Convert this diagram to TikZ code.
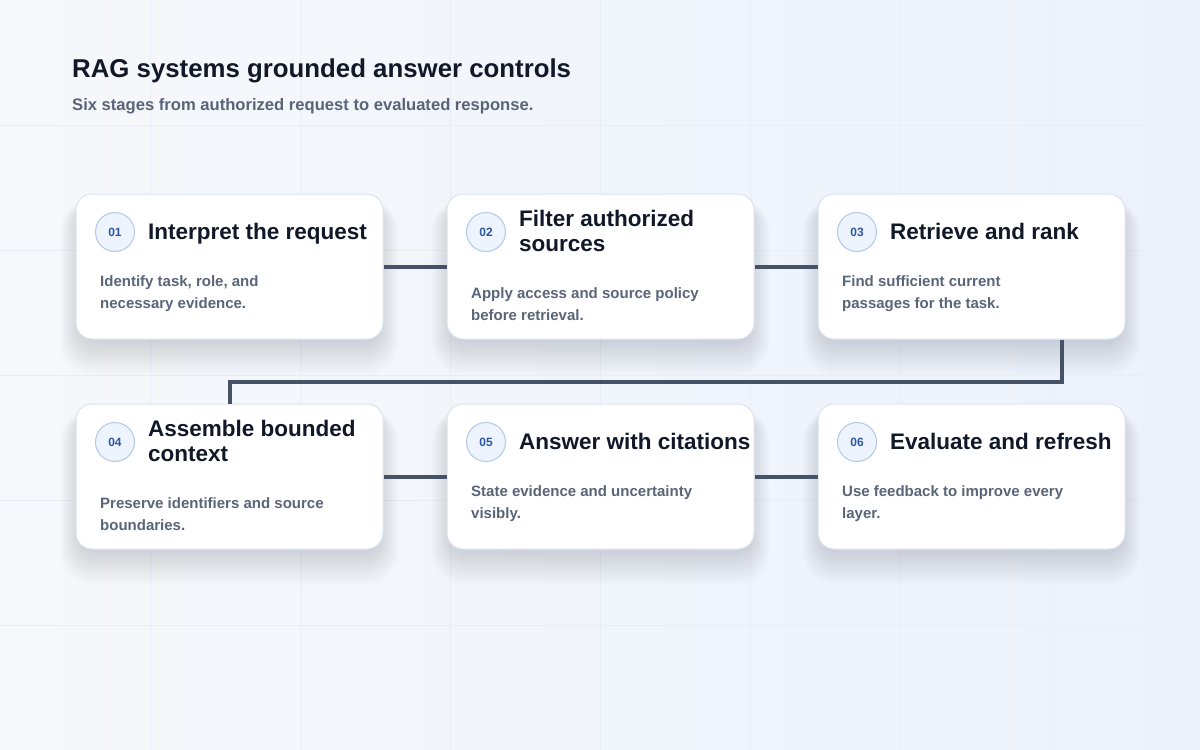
\documentclass[tikz,border=0pt]{standalone}
\usepackage{fontspec}
\setmainfont{Liberation Sans}
\usetikzlibrary{calc}
\definecolor{bgA}{HTML}{F6F8FB}
\definecolor{bgB}{HTML}{ECF2FC}
\definecolor{gridc}{HTML}{E9EDF5}
\definecolor{cardline}{HTML}{DCE3EE}
\definecolor{shadowc}{HTML}{3A4660}
\definecolor{titlec}{HTML}{111827}
\definecolor{subc}{HTML}{5A6477}
\definecolor{descc}{HTML}{596578}
\definecolor{dotfill}{HTML}{EEF4FE}
\definecolor{dotline}{HTML}{B8CAEA}
\definecolor{numc}{HTML}{2C58A0}
\definecolor{connc}{HTML}{465366}
\tikzset{
  card/.style={draw=cardline, line width=1pt, fill=white, rounded corners=16pt,
    minimum width=307pt, minimum height=145pt, inner sep=0pt},
  numdot/.style={circle, draw=dotline, line width=1.1pt, fill=dotfill, minimum size=39pt,
    inner sep=0pt, text=numc, font=\fontsize{12}{12}\selectfont\bfseries},
  ttl/.style={anchor=north west, inner sep=0pt, align=left, text=titlec,
    font=\fontsize{22.5}{25}\selectfont\bfseries},
  dsc/.style={anchor=north west, inner sep=0pt, align=left, text=descc,
    font=\fontsize{15}{22}\selectfont\bfseries},
  conn/.style={draw=connc, line width=4pt},
}
\newcommand\stageshadow[2]{%
  \foreach \i in {1,...,18}{%
    \fill[shadowc, opacity=0.0075, rounded corners=16pt+\i pt]
      (#1+4-\i*1.1, #2+10-\i*0.3) rectangle (#1+303+\i*1.1, #2+145+2+\i*1.9);
  }%
}
% #1 id, #2 left x, #3 top y, #4 number, #5 title, #6 title top offset, #7 desc, #8 desc top offset
\newcommand\stagecard[8]{%
  \node[card] (#1) at (#2+153.5, #3+72.5) {};
  \node[numdot] (#1n) at (#2+39, #3+38) {#4};
  \node[ttl] (#1t) at (#2+72, #3+#6) {#5};
  \node[dsc] (#1d) at (#2+24, #3+#8) {#7};
}
\begin{document}
\begin{tikzpicture}[x=1pt, y=-1pt]
\useasboundingbox (0,0) rectangle (1200,750);
\shade[left color=bgA, right color=bgB] (0,0) rectangle (1200,750);
\foreach \x in {150,300,...,1050} \draw[gridc, line width=0.6pt] (\x,0) -- (\x,750);
\foreach \y in {125,250,...,625} \draw[gridc, line width=0.6pt] (0,\y) -- (1200,\y);

\node[anchor=base west, inner sep=0pt, text=titlec, font=\fontsize{25.8}{30}\selectfont\bfseries]
  (title) at (72,77) {RAG systems grounded answer controls};
\node[anchor=base west, inner sep=0pt, text=subc, font=\fontsize{16.6}{20}\selectfont\bfseries]
  (subtitle) at (72,110) {Six stages from authorized request to evaluated response.};

\stageshadow{76}{194}
\stageshadow{447}{194}
\stageshadow{818}{194}
\stageshadow{76}{404}
\stageshadow{447}{404}
\stageshadow{818}{404}

\coordinate (bend) at (1062,382);

\stagecard{c1}{76}{194}{01}{Interpret the request}{29}{Identify task, role, and\\necessary evidence.}{81}
\stagecard{c2}{447}{194}{02}{Filter authorized\\sources}{16}{Apply access and source policy\\before retrieval.}{93}
\stagecard{c3}{818}{194}{03}{Retrieve and rank}{29}{Find sufficient current\\passages for the task.}{81}
\stagecard{c4}{76}{404}{04}{Assemble bounded\\context}{16}{Preserve identifiers and source\\boundaries.}{93}
\stagecard{c5}{447}{404}{05}{Answer with citations}{29}{State evidence and uncertainty\\visibly.}{81}
\stagecard{c6}{818}{404}{06}{Evaluate and refresh}{29}{Use feedback to improve every\\layer.}{81}

\draw[conn] (c1.east) -- (c2.west);
\draw[conn] (c2.east) -- (c3.west);
\draw[conn] (c3.south -| bend) -- (bend) -| (c4.north);
\draw[conn] (c4.east) -- (c5.west);
\draw[conn] (c5.east) -- (c6.west);
\end{tikzpicture}
\end{document}
